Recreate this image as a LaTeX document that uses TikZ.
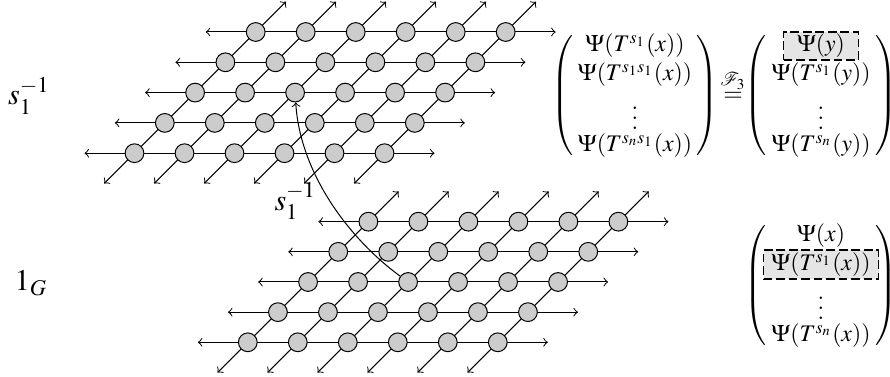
\documentclass[tikz,border=0pt]{standalone}
\usepackage{amsmath}
\IfFileExists{mathptmx.sty}{\usepackage{mathptmx}}{}
\usetikzlibrary{matrix,backgrounds,calc}

\begin{document}
\begin{tikzpicture}[>=to,x=0.4pt,y=-0.4pt,
  site/.style={circle,draw,fill=gray!40,minimum size=7.5pt,inner sep=0pt},
  mat/.style={matrix of math nodes,left delimiter=(,right delimiter=),
    inner sep=0pt,row sep=1pt,
    nodes={inner sep=0.5pt,font=\fontsize{9.5}{11}\selectfont},
    every left delimiter/.style={xshift=4pt},
    every right delimiter/.style={xshift=-4pt}},
  hl/.style={draw,semithick,dash pattern=on 3.5pt off 1.5pt,fill=gray!20,inner sep=0pt}]
  \useasboundingbox (0,0) rectangle (890,377);
  % the two lattices
  \foreach \r in {0,...,4}
    \foreach \c in {0,...,5} {
      \node[site] (t\r\c) at (255.7-30.3*\r+50*\c, 32+30.3*\r) {};
      \node[site] (b\r\c) at (368.4-30.15*\r+50*\c, 221.7+30.15*\r) {};
    }
  \begin{scope}[on background layer]
    \foreach \g in {t,b} {
      \foreach \r in {0,...,4}
        \draw[<->] ($(\g\r0)+(-50,0)$) -- ($(\g\r5)+(50,0)$);
      \foreach \c in {0,...,5}
        \draw[<->] ($(\g4\c)+(-30.3,30.3)$) -- ($(\g0\c)+(30.3,-30.3)$);
    }
  \end{scope}
  \draw[->] (b22) .. controls +(-60,-44) and +(5,80) .. node[pos=.5,left=2pt] {\large$s_1^{-1}$} (t22);
  % labels of the two levels
  \node (lt) at (29,96) {\large$s_1^{-1}$};
  \node (lb) at (31,283) {\large$1_G$};
  % vectors
  \matrix (ml) at (635,96) [mat] {
    \Psi(T^{s_1}(x)) \\
    \Psi(T^{s_1s_1}(x)) \\
    \vdots \\
    \Psi(T^{s_ns_1}(x)) \\
  };
  \node (eq) at (733,86) {$\stackrel{\mathcal{F}_3}{=}$};
  \matrix (mr) at (821,96) [mat] {
    \Psi(y) \\
    \Psi(T^{s_1}(y)) \\
    \vdots \\
    \Psi(T^{s_n}(y)) \\
  };
  \matrix (mb) at (821,286) [mat] {
    \Psi(x) \\
    \Psi(T^{s_1}(x)) \\
    \vdots \\
    \Psi(T^{s_n}(x)) \\
  };
  \begin{scope}[on background layer]
    \node[hl,minimum width=30pt,minimum height=11.2pt] (hly) at (mr-1-1) {};
    \node[hl,minimum width=46pt,minimum height=11.6pt] (hlx) at (mb-2-1) {};
  \end{scope}
\end{tikzpicture}
\end{document}
